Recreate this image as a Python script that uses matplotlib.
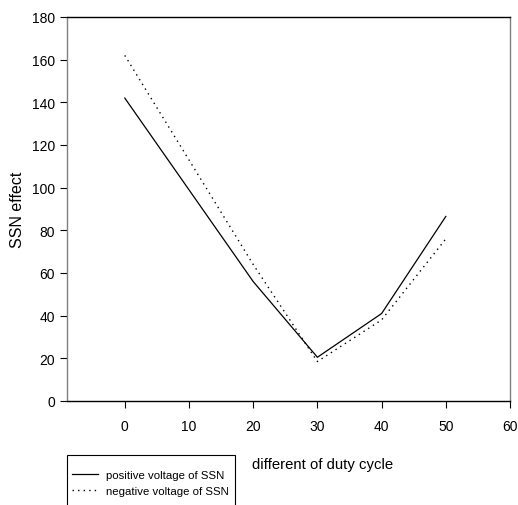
import matplotlib

matplotlib.use('Agg')
import matplotlib.pyplot as plt
from matplotlib.patches import Rectangle

duty = [0, 20, 30, 40, 50]
positive = [142, 56, 20.5, 41, 86.5]
negative = [162, 64, 18.5, 38, 76]

plt.rcParams['font.family'] = ['Liberation Sans', 'DejaVu Sans']

W, H = 518, 506
fig = plt.figure(figsize=(W / 100, H / 100), dpi=100)
ax = fig.add_axes([67 / W, 104 / H, 443 / W, 384 / H])

ax.plot(duty, positive, color='black', linewidth=0.9, label='positive voltage of SSN')
ax.plot(duty, negative, color='black', linewidth=1.0, linestyle=(0, (1, 3)),
        label='negative voltage of SSN')

ax.set_xlim(-9, 60)
ax.set_ylim(0, 180)
ax.set_xticks(range(0, 61, 10))
ax.set_yticks(range(0, 181, 20))
ax.tick_params(direction='out', length=5, width=0.8, labelsize=10, color='black')
ax.tick_params(axis='x', pad=8)

for side in ['left', 'right']:
    ax.spines[side].set_color('#808080')
for side in ['top', 'bottom']:
    ax.spines[side].set_color('black')
for s in ax.spines.values():
    s.set_linewidth(1.0)

ax.set_ylabel('SSN effect', fontsize=11.5, labelpad=5)
fig.text(323 / W, 1 - 465 / H, 'different of duty cycle', fontsize=10.7,
         ha='center', va='center')

# legend box runs off the bottom of the picture, as in the original
fig.patches.append(Rectangle((67 / W, -0.05), 168 / W, 50 / H + 0.05,
                             transform=fig.transFigure, fill=False,
                             edgecolor='black', linewidth=0.8, clip_on=False))
leg = fig.legend(loc='upper left', bbox_to_anchor=(72 / W, 1 - 471 / H),
                 fontsize=8.2, frameon=False, handlelength=2.3,
                 borderpad=0, labelspacing=0.55, handletextpad=0.7,
                 borderaxespad=0)

fig.savefig('out.png', dpi=100)
